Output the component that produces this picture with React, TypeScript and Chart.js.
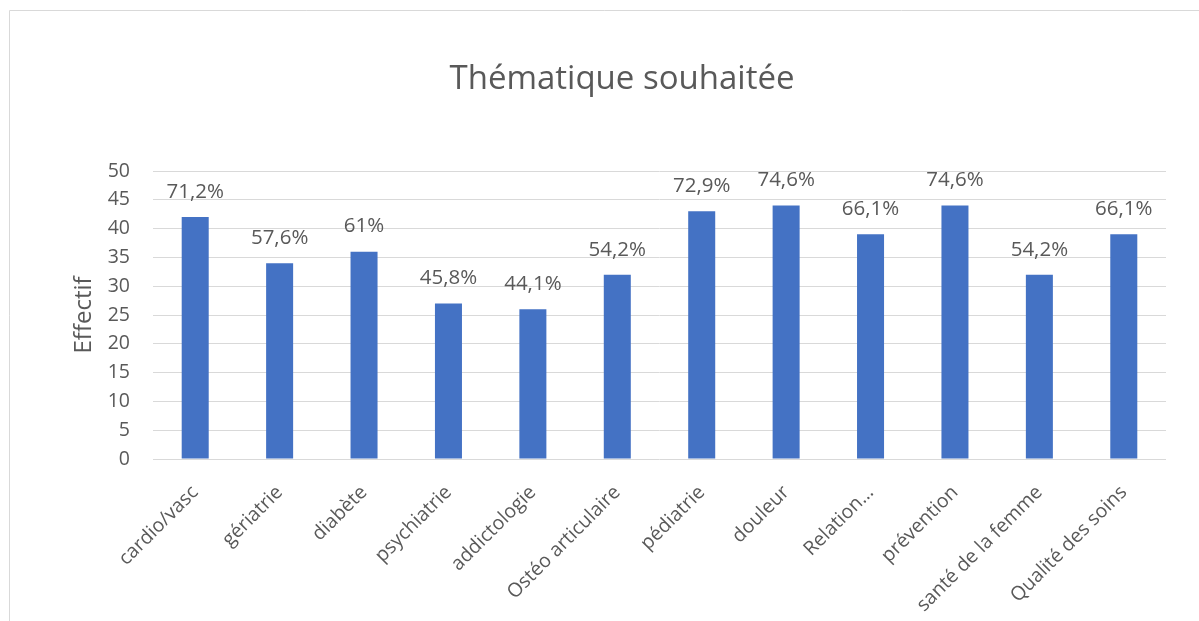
import React, { useEffect, useRef } from "react";
import { Chart, registerables } from "chart.js";

Chart.register(...registerables);

const chartTitle = "Thématique souhaitée";
const yAxisTitle = "Effectif";
const categories = [
  "cardio/vasc",
  "gériatrie",
  "diabète",
  "psychiatrie",
  "addictologie",
  "Ostéo articulaire",
  "pédiatrie",
  "douleur",
  "Relation…",
  "prévention",
  "santé de la femme",
  "Qualité des soins",
];
const counts = [42, 34, 36, 27, 26, 32, 43, 44, 39, 44, 32, 39];
const percentLabels = [
  "71,2%", "57,6%", "61%", "45,8%", "44,1%", "54,2%",
  "72,9%", "74,6%", "66,1%", "74,6%", "54,2%", "66,1%",
];
const yMin = 0;
const yMax = 50;
const yStep = 5;

const FONT = "'Open Sans', sans-serif";
const TEXT = "#595959";

export default function App() {
  const ref = useRef<HTMLCanvasElement>(null);

  useEffect(() => {
    document.body.style.margin = "0";
    const canvas = ref.current!;
    const decor = {
      id: "decor",
      afterDraw(chart: any) {
        const ctx = chart.ctx;
        const area = chart.chartArea;
        ctx.save();
        // frame
        ctx.strokeStyle = "#d9d9d9";
        ctx.lineWidth = 1;
        ctx.beginPath();
        ctx.moveTo(9.5, 621);
        ctx.lineTo(9.5, 10.5);
        ctx.lineTo(1199, 10.5);
        ctx.stroke();
        // title
        ctx.fillStyle = TEXT;
        ctx.font = `33px ${FONT}`;
        ctx.textAlign = "center";
        ctx.textBaseline = "middle";
        ctx.fillText(chartTitle, 622, 80);
        // y axis title
        ctx.save();
        ctx.translate(84, (area.top + area.bottom) / 2);
        ctx.rotate(-Math.PI / 2);
        ctx.font = `24px ${FONT}`;
        ctx.fillText(yAxisTitle, 0, 0);
        ctx.restore();
        // data labels
        const meta = chart.getDatasetMeta(0);
        ctx.font = `20.5px ${FONT}`;
        meta.data.forEach((bar: any, i: number) => {
          ctx.fillText(percentLabels[i], bar.x, bar.y - 25);
        });
        ctx.restore();
      },
    };

    const chart = new Chart(canvas, {
      type: "bar",
      data: {
        labels: categories,
        datasets: [
          {
            data: counts,
            backgroundColor: "#4472C4",
            borderWidth: 0,
            categoryPercentage: 1,
            barPercentage: 0.32,
          },
        ],
      },
      options: {
        responsive: false,
        animation: false,
        devicePixelRatio: 1,
        layout: { padding: { left: 0, top: 171, right: 33, bottom: 0 } },
        plugins: {
          legend: { display: false },
          title: { display: false },
          tooltip: { enabled: false },
        },
        scales: {
          x: {
            grid: { display: false },
            border: { display: false },
            ticks: {
              color: TEXT,
              font: { family: FONT, size: 19.5 },
              maxRotation: 45,
              minRotation: 45,
              autoSkip: false,
              padding: 14,
            },
            afterFit: (s: any) => {
              s.height = 162;
            },
          },
          y: {
            min: yMin,
            max: yMax,
            grid: { color: "#d9d9d9", lineWidth: 1, drawTicks: false },
            border: { display: false },
            ticks: {
              stepSize: yStep,
              color: TEXT,
              font: { family: FONT, size: 19.5 },
              padding: 23,
            },
            afterFit: (s: any) => {
              s.width = 153;
            },
          },
        },
      },
      plugins: [decor],
    });
    return () => chart.destroy();
  }, []);

  return (
    <div style={{ width: 1199, height: 621, background: "#fff" }}>
      <canvas ref={ref} width={1199} height={621} />
    </div>
  );
}
